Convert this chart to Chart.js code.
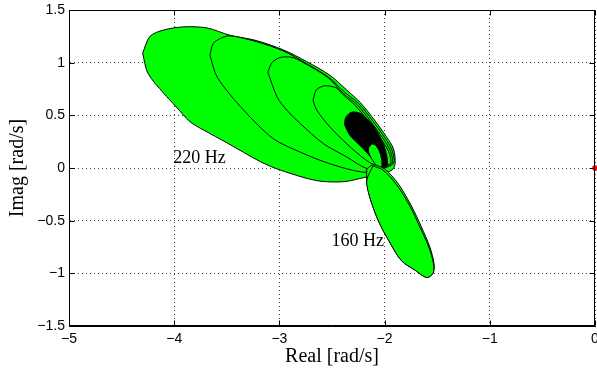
<!DOCTYPE html>
<html><head><meta charset="utf-8">
<script src="https://cdn.jsdelivr.net/npm/chart.js@4/dist/chart.umd.min.js"></script>
<style>html,body{margin:0;padding:0;background:#fff;overflow:hidden}</style>
</head><body>
<canvas id="c" width="597" height="371" style="display:block"></canvas>
<script>
// ---- data (real / imaginary parts, rad/s) ----
const xTicks = [-5, -4, -3, -2, -1, 0];
const yTicks = [-1.5, -1, -0.5, 0, 0.5, 1, 1.5];

const lobe220Re = [-4.30,-4.23,-4.10,-3.91,-3.69,-3.47,-3.22,-2.96,-2.74,-2.52,-2.36,-2.23,-2.10,-1.985,-1.915,-1.90,-1.93,-2.05,-2.17,-2.39,-2.645,-2.99,-3.18,-3.50,-3.72,-3.85,-3.98,-4.10,-4.25,-4.30];
const lobe220Im = [1.09,1.25,1.31,1.34,1.33,1.26,1.21,1.12,1.01,0.88,0.74,0.62,0.46,0.30,0.18,0.04,-0.02,-0.06,-0.085,-0.13,-0.12,-0.02,0.06,0.24,0.36,0.44,0.58,0.71,0.90,1.09];

const lobeBRe = [-3.66,-3.63,-3.56,-3.47,-3.22,-2.96,-2.74,-2.53,-2.38,-2.245,-2.115,-2.00,-1.93,-1.915,-2.04,-2.20,-2.52,-2.80,-3.06,-3.34,-3.59,-3.66];
const lobeBIm = [1.07,1.18,1.23,1.255,1.20,1.11,0.99,0.86,0.72,0.61,0.45,0.29,0.17,0.045,-0.01,-0.04,0.04,0.15,0.28,0.55,0.86,1.07];

const lobeCRe = [-3.11,-3.07,-2.99,-2.88,-2.78,-2.54,-2.395,-2.26,-2.13,-2.015,-1.945,-1.93,-2.05,-2.17,-2.36,-2.58,-2.80,-2.93,-3.02,-3.11];
const lobeCIm = [0.91,1.00,1.05,1.05,1.005,0.86,0.71,0.60,0.44,0.28,0.16,0.045,0.00,-0.005,0.105,0.23,0.42,0.55,0.67,0.91];

const lobeDRe = [-2.68,-2.65,-2.57,-2.46,-2.40,-2.275,-2.145,-2.03,-1.96,-1.945,-2.06,-2.17,-2.36,-2.52,-2.645,-2.68];
const lobeDIm = [0.64,0.74,0.78,0.76,0.70,0.59,0.43,0.27,0.15,0.045,0.02,0.07,0.23,0.39,0.55,0.64];

const holeRe = [-2.38,-2.37,-2.313,-2.234,-2.17,-2.115,-2.02,-1.975,-1.98,-2.02,-2.075,-2.20,-2.33,-2.38];
const holeIm = [0.41,0.48,0.53,0.52,0.47,0.41,0.25,0.09,0.01,0.00,0.04,0.18,0.31,0.41];

const innerRe = [-2.123,-2.085,-2.05,-2.03,-2.027,-2.06,-2.09,-2.13,-2.155,-2.123];
const innerIm = [0.23,0.215,0.16,0.09,0.015,0.01,0.04,0.10,0.18,0.23];

const lobe160Re = [-2.17,-2.11,-2.00,-1.87,-1.74,-1.65,-1.57,-1.53,-1.54,-1.60,-1.71,-1.84,-1.96,-2.06,-2.14,-2.17,-2.17];
const lobe160Im = [-0.01,0.03,-0.01,-0.15,-0.37,-0.56,-0.75,-0.91,-1.00,-1.04,-0.97,-0.88,-0.69,-0.50,-0.28,-0.12,-0.01];

const lobe160bRe = [-2.11,-2.015,-1.885,-1.755,-1.665,-1.58,-1.535,-1.54,-1.60,-1.71,-1.84,-1.96,-2.06,-2.14,-2.17,-2.11];
const lobe160bIm = [0.02,-0.02,-0.16,-0.37,-0.56,-0.75,-0.91,-1.00,-1.04,-0.97,-0.88,-0.69,-0.50,-0.28,-0.12,0.02];

const poleRe = [0];
const poleIm = [0];

const labelText = ['220 Hz', '160 Hz'];
const labelRe = [-3.76, -2.255];
const labelIm = [0.09, -0.70];

// ---- build ----
const pts = (re, im) => re.map((x, i) => ({x: x, y: im[i]}));
const GREEN = '#00ff00';
function shape(re, im, color, order) {
  return {
    data: pts(re, im), showLine: true, fill: 'shape', tension: 0.3,
    backgroundColor: color, borderColor: '#000', borderWidth: 1,
    pointRadius: 0, order: order
  };
}
const fmt = v => (v < 0 ? '\u2212' : '') + String(Math.abs(v));

const framePlugin = {
  id: 'frame',
  afterDraw(chart) {
    const {ctx, chartArea: a, scales: {x, y}} = chart;
    ctx.save();
    ctx.strokeStyle = '#000';
    ctx.lineWidth = 1;
    const L = Math.round(a.left) + 0.5, R = Math.round(a.right) - 0.5;
    const T = Math.round(a.top) + 0.5, B = Math.round(a.bottom) - 0.5;
    ctx.strokeRect(L, T, R - L, B - T);
    ctx.beginPath();
    xTicks.forEach(v => {
      const px = Math.round(x.getPixelForValue(v)) + 0.5;
      ctx.moveTo(px, B); ctx.lineTo(px, B - 5);
      ctx.moveTo(px, T); ctx.lineTo(px, T + 5);
    });
    yTicks.forEach(v => {
      const py = Math.round(y.getPixelForValue(v)) + 0.5;
      ctx.moveTo(L, py); ctx.lineTo(L + 5, py);
      ctx.moveTo(R, py); ctx.lineTo(R - 5, py);
    });
    ctx.stroke();
    ctx.restore();
  },
  afterDatasetsDraw(chart) {
    const {ctx, scales: {x, y}} = chart;
    ctx.save();
    ctx.fillStyle = '#000';
    ctx.font = '18px "Liberation Serif", "Times New Roman", serif';
    ctx.textAlign = 'center';
    ctx.textBaseline = 'middle';
    labelText.forEach((t, i) => ctx.fillText(t, x.getPixelForValue(labelRe[i]), y.getPixelForValue(labelIm[i])));
    ctx.restore();
  }
};

new Chart(document.getElementById('c'), {
  type: 'scatter',
  data: {
    datasets: [
      {data: pts(poleRe, poleIm), pointStyle: 'star', pointRadius: 3, borderColor: '#ff0000', borderWidth: 1.5, backgroundColor: '#ff0000', clip: false, order: 0},
      shape(lobe160bRe, lobe160bIm, GREEN, 1),
      shape(lobe160Re, lobe160Im, GREEN, 2),
      shape(innerRe, innerIm, GREEN, 3),
      shape(holeRe, holeIm, '#000000', 4),
      shape(lobeDRe, lobeDIm, GREEN, 5),
      shape(lobeCRe, lobeCIm, GREEN, 6),
      shape(lobeBRe, lobeBIm, GREEN, 7),
      shape(lobe220Re, lobe220Im, GREEN, 8)
    ]
  },
  options: {
    responsive: false, animation: false, devicePixelRatio: 1,
    layout: {autoPadding: false, padding: {top: 10, right: 2, left: 0, bottom: 0}},
    plugins: {legend: {display: false}, tooltip: {enabled: false}},
    scales: {
      x: {
        type: 'linear', min: -5, max: 0,
        afterBuildTicks: s => { s.ticks = xTicks.map(v => ({value: v})); },
        ticks: {callback: fmt, color: '#000', padding: 5, maxRotation: 0,
                font: {family: '"Liberation Sans", Arial, sans-serif', size: 14}},
        grid: {color: '#444', lineWidth: 1, drawTicks: false},
        border: {display: true, color: '#000', width: 1, dash: [1, 3]},
        title: {display: true, text: 'Real [rad/s]', color: '#000',
                font: {family: '"Liberation Serif", "Times New Roman", serif', size: 20},
                padding: {top: 0, bottom: 2}},
        afterFit: s => { s.height = 45; s.paddingLeft = 0; s.paddingRight = 0; }
      },
      y: {
        type: 'linear', min: -1.5, max: 1.5,
        afterBuildTicks: s => { s.ticks = yTicks.map(v => ({value: v})); },
        ticks: {callback: fmt, color: '#000', padding: 4,
                font: {family: '"Liberation Sans", Arial, sans-serif', size: 14}},
        grid: {color: '#444', lineWidth: 1, drawTicks: false},
        border: {display: true, color: '#000', width: 1, dash: [1, 3]},
        title: {display: true, text: 'Imag [rad/s]', color: '#000',
                font: {family: '"Liberation Serif", "Times New Roman", serif', size: 20},
                padding: {top: 6, bottom: 0}},
        afterFit: s => { s.width = 69; s.paddingTop = 0; s.paddingBottom = 0; }
      }
    }
  },
  plugins: [framePlugin]
});
</script>
</body></html>
